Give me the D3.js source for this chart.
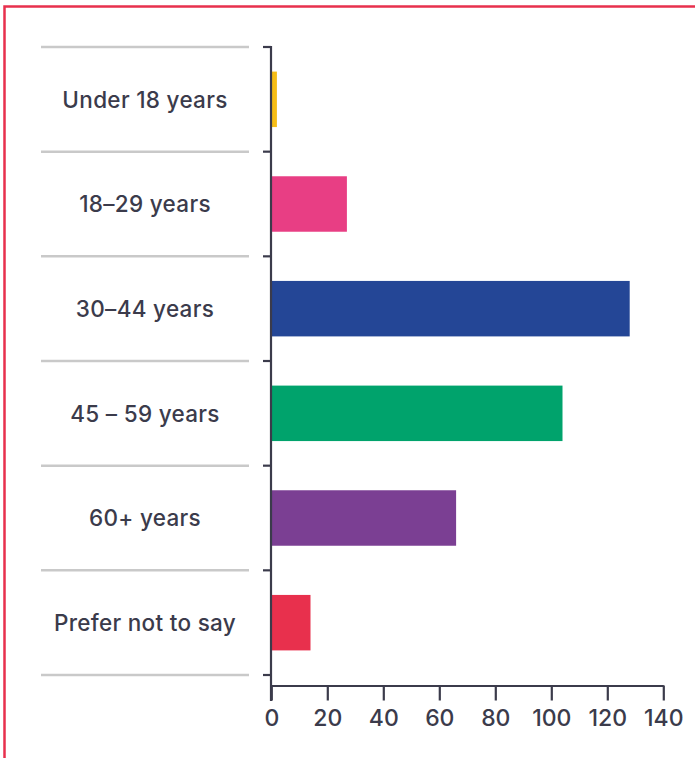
<!DOCTYPE html>
<html>
<head>
<meta charset="utf-8">
<script src="https://cdn.jsdelivr.net/npm/d3@7"></script>
<style>
  html, body { margin: 0; padding: 0; background: #fff; }
  svg { display: block; }
</style>
</head>
<body>
<script>
// Respondents by age group
const categories = ["Under 18 years", "18–29 years", "30–44 years", "45 – 59 years", "60+ years", "Prefer not to say"];
const counts = [2, 27, 128, 104, 66, 14];
const barColors = ["#f6bd16", "#e83e84", "#244696", "#00a36c", "#7b3f93", "#e8304d"];
const xTickValues = [0, 20, 40, 60, 80, 100, 120, 140];

const W = 695, H = 758;
const ink = "#3b3b4b";
const font = "Inter, 'Noto Sans', sans-serif";

const svg = d3.select("body").append("svg").attr("width", W).attr("height", H);

// frame (top and left edges)
svg.append("path")
  .attr("d", `M4.5,${H} V6.5 H${W}`)
  .attr("fill", "none").attr("stroke", "#e8304d").attr("stroke-width", 2.5);

const x = d3.scaleLinear().domain([0, 140]).range([271.3, 663.3]);
const y = d3.scaleBand().domain(categories).range([47, 675]).paddingInner(0.47).paddingOuter(0.235);
const step = y.step();
const yTop = 47;

// separators between category labels
const seps = d3.range(categories.length + 1).map(i => yTop + i * step);
svg.append("g").selectAll("line").data(seps).join("line")
  .attr("x1", 41).attr("x2", 249)
  .attr("y1", d => d).attr("y2", d => d)
  .attr("stroke", "#c9c9c9").attr("stroke-width", 2.5);

// category labels
svg.append("g").selectAll("text").data(categories).join("text")
  .attr("x", 145)
  .attr("y", (d, i) => yTop + (i + 0.5) * step)
  .attr("dy", "0.37em")
  .attr("text-anchor", "middle")
  .attr("font-family", font).attr("font-size", 22.5).attr("font-weight", 500)
  .attr("letter-spacing", 0.3)
  .attr("fill", ink)
  .text(d => d);

// bars
svg.append("g").selectAll("rect").data(categories).join("rect")
  .attr("x", x(0))
  .attr("y", d => y(d))
  .attr("width", (d, i) => x(counts[i]) - x(0))
  .attr("height", y.bandwidth())
  .attr("fill", (d, i) => barColors[i]);

// y axis line with boundary ticks
const yAxis = svg.append("g");
yAxis.append("line")
  .attr("x1", 271).attr("x2", 271).attr("y1", 46).attr("y2", 701)
  .attr("stroke", ink).attr("stroke-width", 2.2);
yAxis.selectAll("line.tick").data(seps).join("line").attr("class", "tick")
  .attr("x1", 263).attr("x2", 271)
  .attr("y1", d => d).attr("y2", d => d)
  .attr("stroke", ink).attr("stroke-width", 2.2);

// x axis
const xAxis = svg.append("g").attr("transform", "translate(0,685.5)")
  .call(d3.axisBottom(x).tickValues(xTickValues).tickSize(15).tickSizeOuter(0).tickPadding(9));
xAxis.select(".domain").attr("stroke", ink).attr("stroke-width", 2.2);
xAxis.selectAll(".tick line").attr("stroke", ink).attr("stroke-width", 2.2);
xAxis.selectAll(".tick text")
  .attr("font-family", font).attr("font-size", 23).attr("font-weight", 500)
  .attr("fill", ink);
</script>
</body>
</html>
